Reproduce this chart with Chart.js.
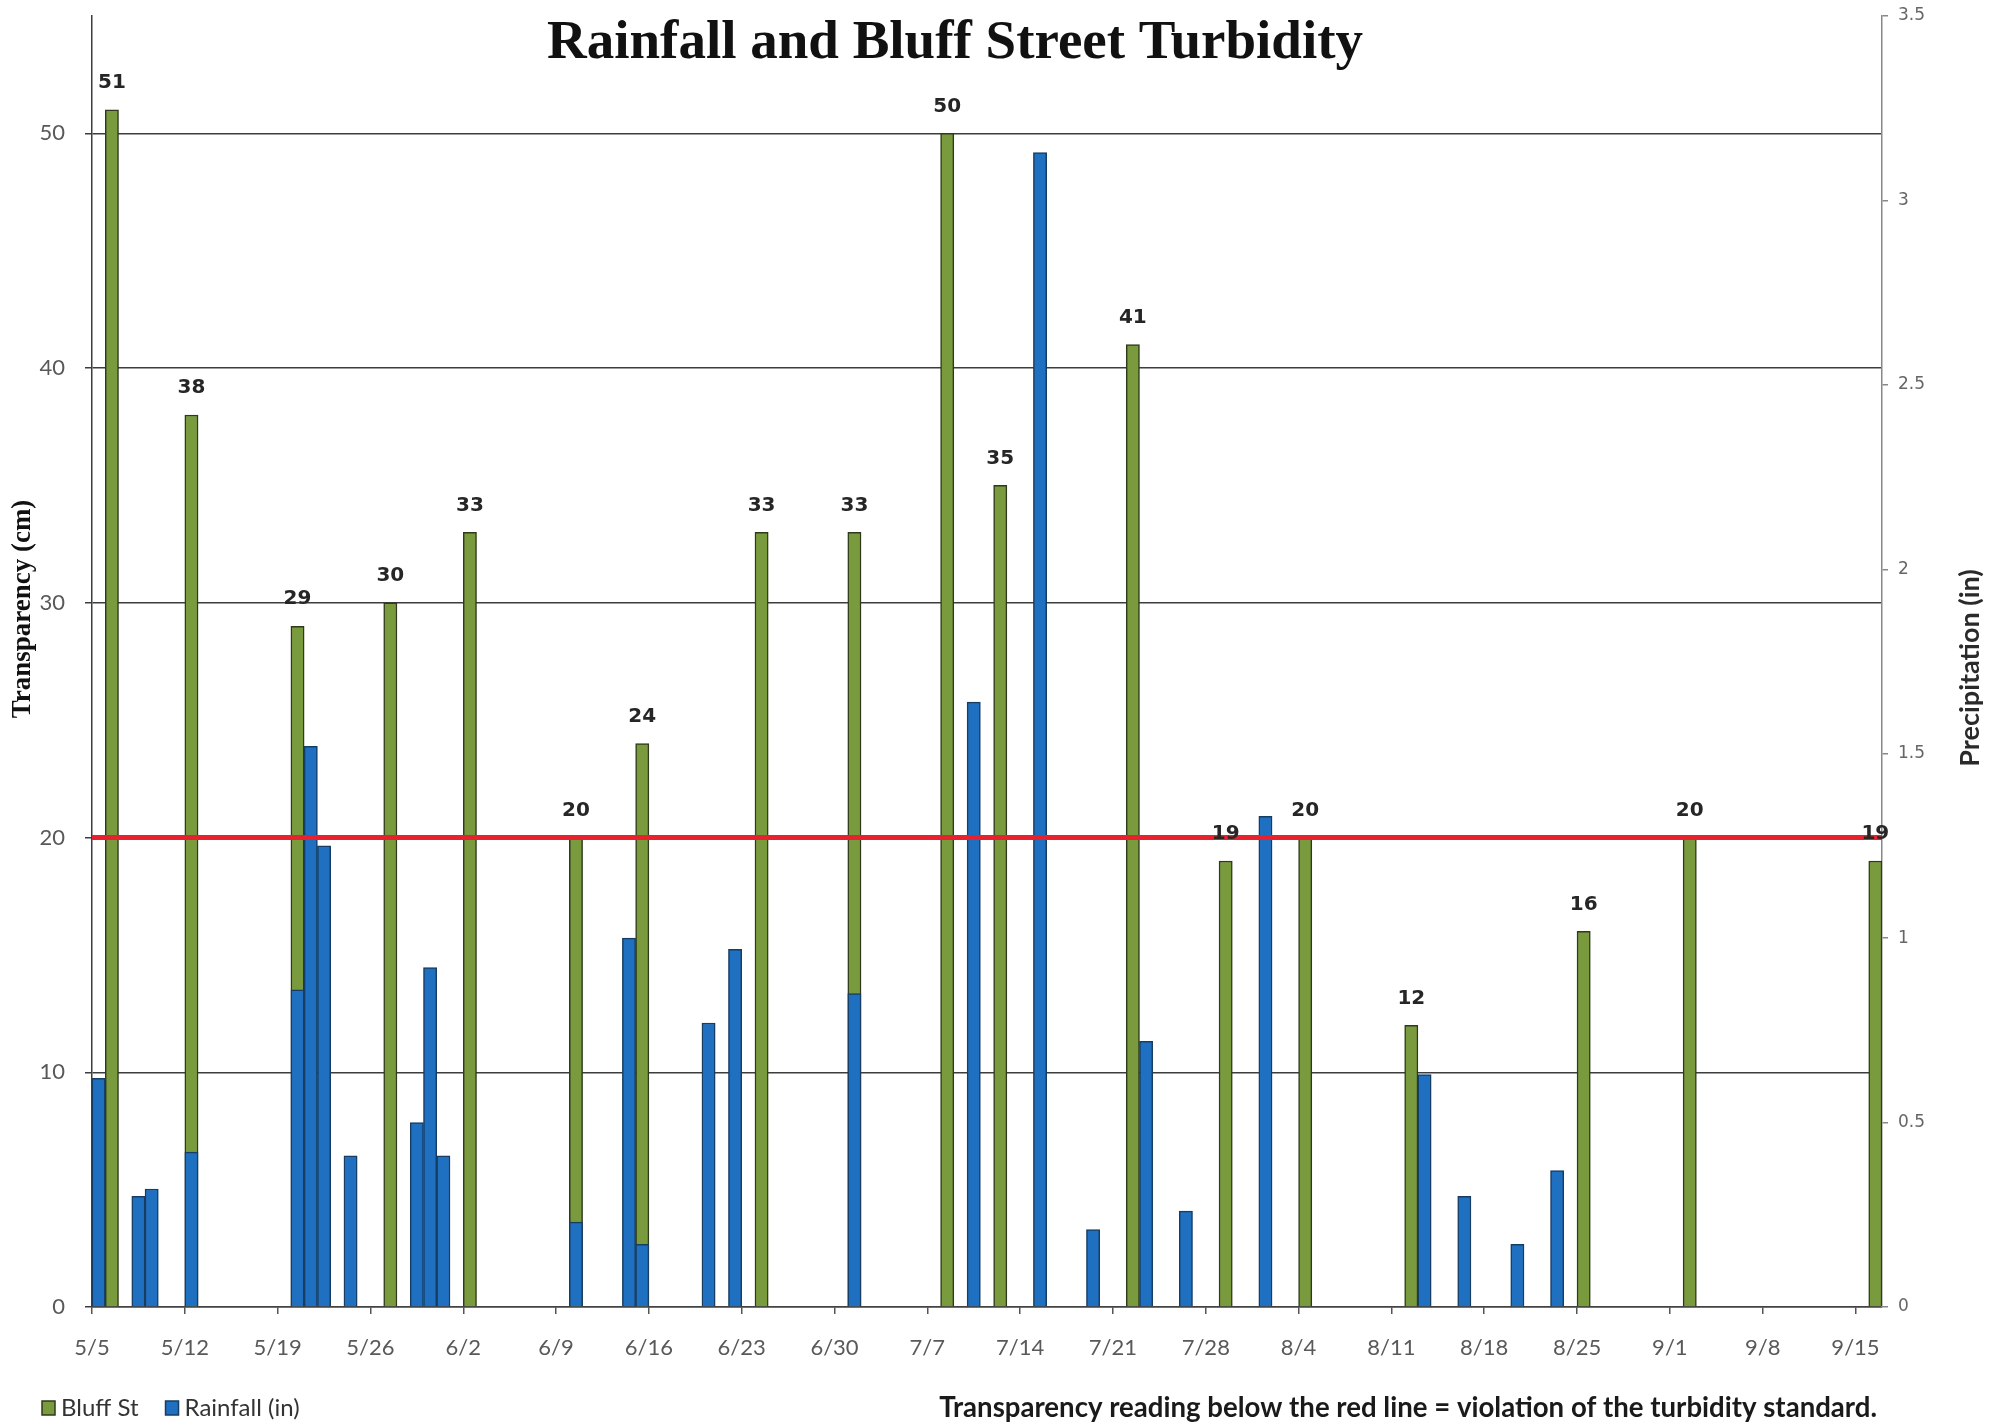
<!DOCTYPE html>
<html>
<head>
<meta charset="utf-8">
<title>Rainfall and Bluff Street Turbidity</title>
<script src="https://cdn.jsdelivr.net/npm/chart.js@4.4.1/dist/chart.umd.min.js"></script>
<style>
  html, body { margin: 0; padding: 0; background: #fff; }
  #wrap { width: 2005px; height: 1424px; }
</style>
</head>
<body>
<div id="wrap"><canvas id="turbChart" width="2005" height="1424"></canvas></div>
<script>
// transparency readings at Bluff St (cm)
const bluffDates = ['5/6','5/12','5/20','5/27','6/2','6/10','6/15','6/24','7/1','7/8',
                    '7/12','7/22','7/29','8/4','8/12','8/25','9/2','9/16'];
const bluffCm    = [51, 38, 29, 30, 33, 20, 24, 33, 33, 50,
                    35, 41, 19, 20, 12, 16, 20, 19];

// daily rainfall (in)
const rainDates = ['5/5','5/8','5/9','5/12','5/20','5/21','5/22','5/24','5/29','5/30',
                   '5/31','6/10','6/14','6/15','6/20','6/22','7/1','7/10','7/15','7/19',
                   '7/23','7/26','8/1','8/13','8/16','8/20','8/23'];
const rainIn    = [0.62, 0.30, 0.32, 0.42, 0.86, 1.52, 1.25, 0.41, 0.50, 0.92,
                   0.41, 0.23, 1.00, 0.17, 0.77, 0.97, 0.85, 1.64, 3.13, 0.21,
                   0.72, 0.26, 1.33, 0.63, 0.30, 0.17, 0.37];

const weekLabels = ['5/5','5/12','5/19','5/26','6/2','6/9','6/16','6/23','6/30','7/7',
                    '7/14','7/21','7/28','8/4','8/11','8/18','8/25','9/1','9/8','9/15'];
const firstDay = '5/5';
const lastDay  = '9/16';
const standardCm = 20;   // red line

function dayNo(s) {
  const [m, d] = s.split('/').map(Number);
  const [m0, d0] = firstDay.split('/').map(Number);
  return Math.round((Date.UTC(2000, m - 1, d) - Date.UTC(2000, m0 - 1, d0)) / 864e5);
}
const axisMax = dayNo(lastDay) + 1;

const green = '#7a9a3e';
const blue  = '#1f70c1';
const tickFont = 'Lato';

// fixed axis box sizes, no extra top/bottom room for labels
function fixWidth(w) {
  return s => { s.width = w; s.paddingTop = 0; s.paddingBottom = 0; };
}

const decor = {
  id: 'decor',
  afterDatasetsDraw(chart) {
    const {ctx} = chart;
    const meta = chart.getDatasetMeta(0);
    ctx.save();
    ctx.font = 'bold 20px "DejaVu Sans"';
    ctx.fillStyle = '#262626';
    ctx.textAlign = 'center';
    ctx.textBaseline = 'middle';
    meta.data.forEach((bar, i) => ctx.fillText(String(bluffCm[i]), bar.x, bar.y - 27));
    ctx.restore();
  },
  afterDraw(chart) {
    const {ctx} = chart;
    ctx.save();
    // title
    ctx.fillStyle = '#111';
    ctx.textAlign = 'center';
    ctx.textBaseline = 'alphabetic';
    ctx.font = 'bold 55px "Liberation Serif"';
    ctx.fillText('Rainfall and Bluff Street Turbidity', 955, 58);

    // axis titles
    ctx.textBaseline = 'middle';
    ctx.save();
    ctx.translate(23, 609);
    ctx.rotate(-Math.PI / 2);
    ctx.font = 'bold 27px "Liberation Serif"';
    ctx.fillText('Transparency (cm)', 0, 0);
    ctx.restore();

    ctx.save();
    ctx.translate(1970, 668);
    ctx.rotate(-Math.PI / 2);
    ctx.font = 'bold 27px ' + tickFont;
    ctx.fillStyle = '#2a2a2a';
    ctx.fillText('Precipitation (in)', 0, 0);
    ctx.restore();

    // legend
    const ly = 1408;
    ctx.font = '24px ' + tickFont;
    ctx.textAlign = 'left';
    let lx = 42;
    chart.data.datasets.slice(0, 2).forEach(ds => {
      ctx.fillStyle = ds.backgroundColor;
      ctx.fillRect(lx, ly - 7, 13, 14);
      ctx.strokeStyle = ds.borderColor;
      ctx.lineWidth = 1.5;
      ctx.strokeRect(lx, ly - 7, 13, 14);
      ctx.fillStyle = '#333';
      ctx.fillText(ds.label, lx + 19, ly);
      lx += 19 + ctx.measureText(ds.label).width + 27;
    });

    // note
    ctx.font = 'bold 27.6px ' + tickFont;
    ctx.fillStyle = '#1a1a1a';
    ctx.textAlign = 'right';
    ctx.fillText('Transparency reading below the red line = violation of the turbidity standard.', 1877, ly);
    ctx.restore();
  }
};

const chart = new Chart(document.getElementById('turbChart'), {
  type: 'bar',
  data: {
    datasets: [{
      label: 'Bluff St',
      data: bluffDates.map((d, i) => ({x: dayNo(d) + 0.5, y: bluffCm[i]})),
      yAxisID: 'y',
      backgroundColor: green,
      borderColor: '#2e3a1b',
      borderWidth: 1.5,
      grouped: false,
      barPercentage: 1,
      categoryPercentage: 1,
      order: 2
    }, {
      label: 'Rainfall (in)',
      data: rainDates.map((d, i) => ({x: dayNo(d) + 0.5, y: rainIn[i]})),
      yAxisID: 'y2',
      backgroundColor: blue,
      borderColor: '#173d63',
      borderWidth: 1.5,
      grouped: false,
      barPercentage: 1,
      categoryPercentage: 1,
      order: 1
    }, {
      type: 'line',
      label: 'standard',
      data: [{x: 0, y: standardCm}, {x: axisMax, y: standardCm}],
      yAxisID: 'y',
      borderColor: '#e8212e',
      borderWidth: 5,
      pointRadius: 0,
      order: 0
    }]
  },
  options: {
    responsive: false,
    animation: false,
    layout: { padding: { top: 16, bottom: 57, left: 0, right: 0 } },
    plugins: { legend: { display: false }, tooltip: { enabled: false } },
    scales: {
      x: {
        type: 'linear', position: 'bottom', min: 0, max: axisMax, offset: false,
        afterFit: s => { s.height = 60; },
        ticks: {
          stepSize: 7, includeBounds: false, autoSkip: false, maxRotation: 0,
          padding: 21, color: '#595959', font: { family: tickFont, size: 22 },
          callback: v => (v % 7 === 0 ? weekLabels[v / 7] : '')
        },
        grid: { offset: false, drawOnChartArea: false, drawTicks: true, tickLength: 7, lineWidth: 1.5, color: '#555' },
        border: { display: true, color: '#444', width: 1.5 }
      },
      y: {
        position: 'left', min: 0, max: 55,
        afterFit: fixWidth(92),
        ticks: { stepSize: 10, includeBounds: false, padding: 20, color: '#595959', font: { family: tickFont, size: 22 } },
        grid: { color: '#3d3d3d', lineWidth: 1.5, tickLength: 7 },
        border: { color: '#3d3d3d', width: 1.5 }
      },
      y2: {
        position: 'right', min: 0, max: 3.5,
        afterFit: fixWidth(123),
        ticks: {
          stepSize: 0.5, includeBounds: false, padding: 10, color: '#666',
          font: { family: 'DejaVu Sans', size: 17 },
          callback: v => String(v)
        },
        grid: { drawOnChartArea: false, tickLength: 6, color: '#888', lineWidth: 1.5 },
        border: { color: '#888', width: 1.5 }
      }
    }
  },
  plugins: [decor]
});
</script>
</body>
</html>
